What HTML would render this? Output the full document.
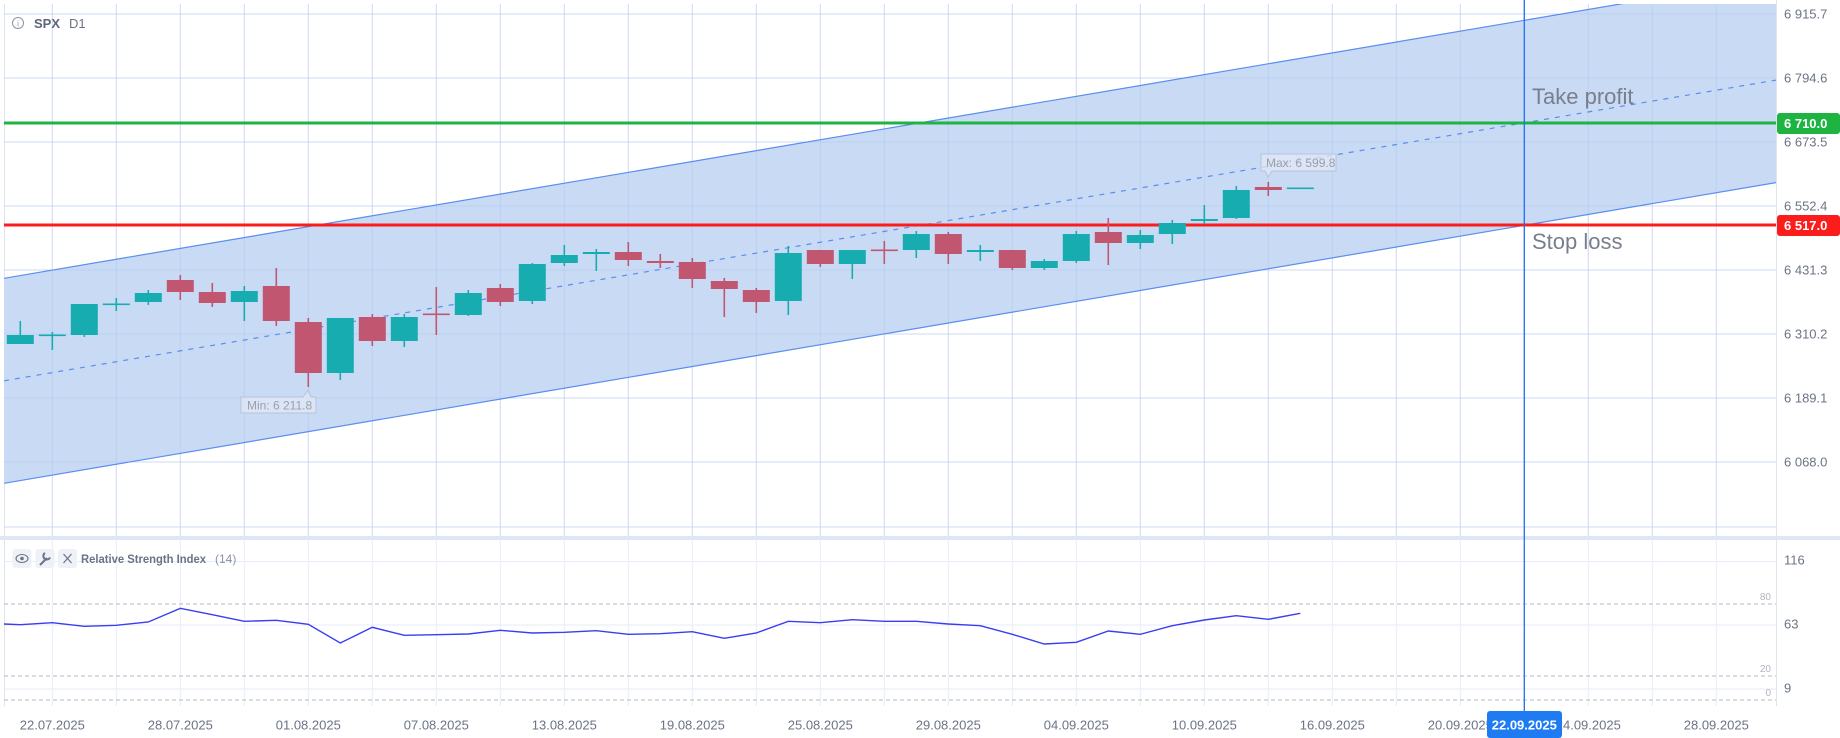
<!DOCTYPE html>
<html><head><meta charset="utf-8"><style>
html,body{margin:0;padding:0;background:#fff;width:1840px;height:738px;overflow:hidden}
svg{display:block;font-family:"Liberation Sans",Arial,sans-serif}
</style></head><body>
<svg width="1840" height="738" viewBox="0 0 1840 738" xmlns="http://www.w3.org/2000/svg">
<defs>
<clipPath id="pc"><rect x="4" y="4" width="1772" height="532"/></clipPath>
</defs>
<rect width="1840" height="738" fill="#fff"/>
<g stroke="#e6ecf8" stroke-width="1">
<path d="M4 14H1776M4 78H1776M4 142H1776M4 206H1776M4 270H1776M4 334H1776M4 398H1776M4 462H1776M4 527H1776"/>
<path d="M52.3 4V706M116.3 4V706M180.3 4V706M244.3 4V706M308.3 4V706M372.3 4V706M436.3 4V706M500.3 4V706M564.3 4V706M628.3 4V706M692.3 4V706M756.3 4V706M820.3 4V706M884.3 4V706M948.3 4V706M1012.3 4V706M1076.3 4V706M1140.3 4V706M1204.3 4V706M1268.3 4V706M1332.3 4V706M1396.3 4V706M1460.3 4V706M1524.3 4V706M1588.3 4V706M1652.3 4V706M1716.3 4V706"/>
<path d="M4 561.5H1776M4 625H1776M4 689H1776"/>
</g>
<path d="M4.5 4V706" stroke="#dde4f0"/>
<g clip-path="url(#pc)">
<polygon points="4,278.3 1776,-22.4 1776,182.6 4,483.3" fill="#c9daf5"/>
<g stroke="rgba(160,188,236,0.35)" stroke-width="1">
<path d="M4 14H1776M4 78H1776M4 142H1776M4 206H1776M4 270H1776M4 334H1776M4 398H1776M4 462H1776M4 527H1776"/>
<path d="M52.3 4V536M116.3 4V536M180.3 4V536M244.3 4V536M308.3 4V536M372.3 4V536M436.3 4V536M500.3 4V536M564.3 4V536M628.3 4V536M692.3 4V536M756.3 4V536M820.3 4V536M884.3 4V536M948.3 4V536M1012.3 4V536M1076.3 4V536M1140.3 4V536M1204.3 4V536M1268.3 4V536M1332.3 4V536M1396.3 4V536M1460.3 4V536M1524.3 4V536M1588.3 4V536M1652.3 4V536M1716.3 4V536"/>
</g>
<line x1="4" y1="278.3" x2="1776" y2="-22.4" stroke="#5b8def" stroke-width="1.2"/>
<line x1="4" y1="483.3" x2="1776" y2="182.6" stroke="#5b8def" stroke-width="1.2"/>
<line x1="4" y1="380.8" x2="1776" y2="80.1" stroke="#5b8def" stroke-width="1.2" stroke-dasharray="5,6"/>
</g>
<rect x="4" y="121.5" width="1772" height="3" fill="#1db442"/>
<rect x="4" y="223.5" width="1772" height="3" fill="#fb1c1c"/>
<path fill="none" stroke="#17adb0" stroke-width="1.6" d="M20.3 321V344M52.3 332V350M84.3 304V337M116.3 298V311M148.3 290V305M244.3 286V321M340.3 318V380M404.3 314V347M468.3 290V316M532.3 263V304M564.3 245V266M596.3 249V271M788.3 246V315M852.3 250V279M916.3 231V258M980.3 245V261M1044.3 259V270M1076.3 231V263M1140.3 230V249M1172.3 220V244M1204.3 205V224M1236.3 186V219"/>
<g fill="#17adb0">
<rect x="6.8" y="335" width="27" height="9"/><rect x="38.8" y="334.5" width="27" height="1.6"/><rect x="70.8" y="304" width="27" height="31"/><rect x="102.8" y="303.5" width="27" height="1.6"/><rect x="134.8" y="293" width="27" height="9"/><rect x="230.8" y="291" width="27" height="11"/><rect x="326.8" y="318" width="27" height="55"/><rect x="390.8" y="317" width="27" height="24"/><rect x="454.8" y="293" width="27" height="22"/><rect x="518.8" y="264" width="27" height="37"/><rect x="550.8" y="255" width="27" height="8"/><rect x="582.8" y="252" width="27" height="2"/><rect x="774.8" y="253" width="27" height="48"/><rect x="838.8" y="250" width="27" height="14"/><rect x="902.8" y="234" width="27" height="16"/><rect x="966.8" y="250" width="27" height="2"/><rect x="1030.8" y="261" width="27" height="7"/><rect x="1062.8" y="234" width="27" height="27"/><rect x="1126.8" y="235" width="27" height="8"/><rect x="1158.8" y="223" width="27" height="11"/><rect x="1190.8" y="219" width="27" height="2"/><rect x="1222.8" y="190" width="27" height="28"/><rect x="1286.8" y="187.5" width="27" height="1.6"/>
</g>
<path fill="none" stroke="#c0566f" stroke-width="1.6" d="M180.3 275V300M212.3 283V307M276.3 268V326M308.3 318V387M372.3 314V346M436.3 287V335M500.3 284V306M628.3 242V266M660.3 254V268M692.3 258V288M724.3 278V317M756.3 288V313M820.3 250V267M884.3 241V264M948.3 232V264M1012.3 250V270M1108.3 218V265M1268.3 182V196"/>
<g fill="#c0566f">
<rect x="166.8" y="280" width="27" height="12"/><rect x="198.8" y="292" width="27" height="11"/><rect x="262.8" y="286" width="27" height="35"/><rect x="294.8" y="322" width="27" height="51"/><rect x="358.8" y="317" width="27" height="24"/><rect x="422.8" y="313.5" width="27" height="1.6"/><rect x="486.8" y="288" width="27" height="14"/><rect x="614.8" y="252" width="27" height="8"/><rect x="646.8" y="261" width="27" height="2"/><rect x="678.8" y="262" width="27" height="17"/><rect x="710.8" y="281" width="27" height="8"/><rect x="742.8" y="290" width="27" height="12"/><rect x="806.8" y="250" width="27" height="14"/><rect x="870.8" y="249.5" width="27" height="1.6"/><rect x="934.8" y="234" width="27" height="20"/><rect x="998.8" y="250" width="27" height="18"/><rect x="1094.8" y="232" width="27" height="11"/><rect x="1254.8" y="187" width="27" height="3"/>
</g>
<g font-size="12" fill="#9aa0ab">
<path d="M241 397H303L308 390.5L311 397H316V413H241Z" fill="rgba(225,232,245,0.75)" stroke="#b7c3d8"/>
<text x="247" y="409.5">Min: 6 211.8</text>
<path d="M1261 154H1336V171H1272L1268 177L1265 171H1261Z" fill="rgba(225,232,245,0.75)" stroke="#b7c3d8"/>
<text x="1266" y="167">Max: 6 599.8</text>
</g>
<text x="1532" y="104" font-size="22" fill="#787e8c">Take profit</text>
<text x="1532" y="249" font-size="22" fill="#787e8c">Stop loss</text>
<circle cx="18" cy="23" r="5.5" fill="none" stroke="#8a93a3" stroke-width="1"/>
<text x="18" y="26.5" font-size="8" fill="#8a93a3" text-anchor="middle">i</text>
<text x="34" y="28" font-size="13" font-weight="bold" fill="#5d6678">SPX</text>
<text x="69" y="28" font-size="13" fill="#6b7385">D1</text>
<rect x="0" y="536" width="1840" height="4" fill="#e0e7f4"/>
<path d="M1776.5 0V706" stroke="#dde4f0"/>
<g font-size="13" fill="#6b7385">
<text x="1784" y="18.5">6 915.7</text>
<text x="1784" y="82.5">6 794.6</text>
<text x="1784" y="146.5">6 673.5</text>
<text x="1784" y="210.5">6 552.4</text>
<text x="1784" y="274.5">6 431.3</text>
<text x="1784" y="338.5">6 310.2</text>
<text x="1784" y="402.5">6 189.1</text>
<text x="1784" y="466.5">6 068.0</text>
<text x="1784" y="564.5">116</text>
<text x="1784" y="628.5">63</text>
<text x="1784" y="692.5">9</text>
</g>
<rect x="1777" y="113" width="63" height="21" rx="3" fill="#1db442"/>
<text x="1784" y="128" font-size="13" font-weight="bold" fill="#fff">6 710.0</text>
<rect x="1777" y="215" width="63" height="21" rx="3" fill="#fb1c1c"/>
<text x="1784" y="230" font-size="13" font-weight="bold" fill="#fff">6 517.0</text>
<g stroke="#b4b8c2" stroke-width="1" stroke-dasharray="4,3">
<path d="M4 604H1776M4 676H1776M4 700H1776"/>
</g>
<g font-size="10" fill="#b0b5bf" text-anchor="end">
<text x="1771" y="600">80</text><text x="1771" y="672">20</text><text x="1771" y="696">0</text>
</g>
<polyline fill="none" stroke="#3a3ef0" stroke-width="1.4" points="4,624 20.3,624.7 52.3,622.7 84.3,626.3 116.3,625.3 148.3,622 180.3,608.3 212.3,614.7 244.3,621.3 276.3,620.3 308.3,624.3 340.3,643 372.3,627.3 404.3,635.3 436.3,634.7 468.3,634 500.3,630.3 532.3,633 564.3,632.3 596.3,630.7 628.3,634.3 660.3,633.7 692.3,631.7 724.3,638.3 756.3,633 788.3,621.3 820.3,622.7 852.3,619.7 884.3,621.3 916.3,621.3 948.3,624 980.3,625.7 1012.3,634.3 1044.3,644 1076.3,642.3 1108.3,631 1140.3,634.3 1172.3,625.7 1204.3,620 1236.3,615.7 1268.3,619.3 1300.3,613.3"/>
<g>
<rect x="12.5" y="549" width="19" height="19" rx="3" fill="#eef1f7"/>
<ellipse cx="22" cy="558.5" rx="6" ry="4" fill="none" stroke="#6b7385" stroke-width="1.1"/>
<circle cx="22" cy="558.5" r="1.8" fill="#6b7385"/>
<rect x="35.5" y="549" width="19" height="19" rx="3" fill="#eef1f7"/>
<path d="M40 565L47 558M45 553a3.5 3.5 0 1 0 5 4.5" fill="none" stroke="#6b7385" stroke-width="2"/>
<rect x="58" y="549" width="19" height="19" rx="3" fill="#eef1f7"/>
<path d="M63.5 554L71.5 563M71.5 554L63.5 563" stroke="#6b7385" stroke-width="1.2"/>
<text x="81" y="563" font-size="12" font-weight="bold" fill="#6b7385" textLength="125" lengthAdjust="spacingAndGlyphs">Relative Strength Index</text>
<text x="215" y="563" font-size="12" fill="#8a93a3">(14)</text>
</g>
<g font-size="13" fill="#6b7385" text-anchor="middle">
<text x="52.3" y="729.5">22.07.2025</text>
<text x="180.3" y="729.5">28.07.2025</text>
<text x="308.3" y="729.5">01.08.2025</text>
<text x="436.3" y="729.5">07.08.2025</text>
<text x="564.3" y="729.5">13.08.2025</text>
<text x="692.3" y="729.5">19.08.2025</text>
<text x="820.3" y="729.5">25.08.2025</text>
<text x="948.3" y="729.5">29.08.2025</text>
<text x="1076.3" y="729.5">04.09.2025</text>
<text x="1204.3" y="729.5">10.09.2025</text>
<text x="1332.3" y="729.5">16.09.2025</text>
<text x="1460.3" y="729.5">20.09.2025</text>
<text x="1588.3" y="729.5">24.09.2025</text>
<text x="1716.3" y="729.5">28.09.2025</text>
</g>
<line x1="1524.3" y1="0" x2="1524.3" y2="712" stroke="#1e6ff0" stroke-width="1.3"/>
<rect x="1487" y="711" width="75" height="27" rx="3" fill="#1f7bf2"/>
<text x="1524.3" y="729.5" font-size="13" font-weight="bold" fill="#fff" text-anchor="middle">22.09.2025</text>
</svg>
</body></html>
